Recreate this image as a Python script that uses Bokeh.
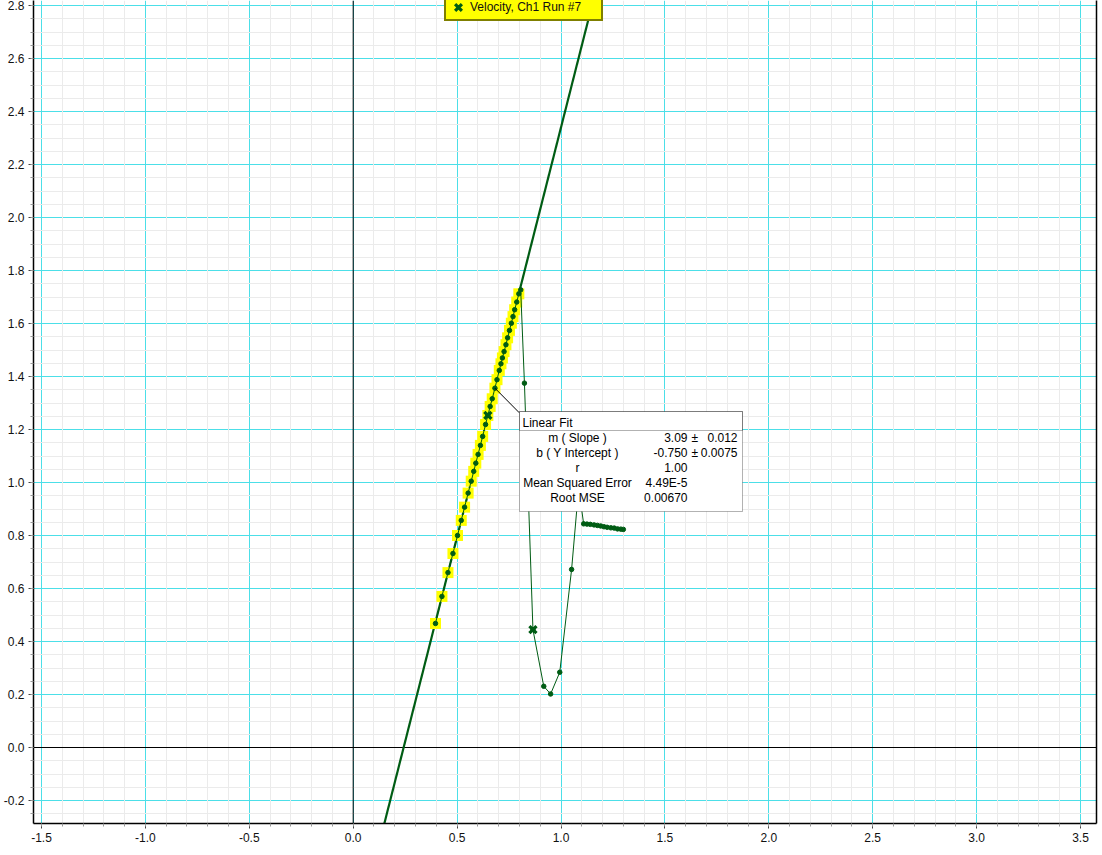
from bokeh.plotting import figure
from bokeh.models import (Range1d, SingleIntervalTicker, PrintfTickFormatter, Span, Slope,
                          BoxAnnotation, Label, Legend, LegendItem, LinearAxis, FixedTicker,
                          ColumnDataSource, Grid)
from bokeh.embed import file_html
from bokeh.resources import INLINE

# ---------------- data ----------------
time_s = [0.396, 0.427, 0.456, 0.480, 0.502, 0.520, 0.536, 0.553, 0.568, 0.580,
          0.590, 0.601, 0.612, 0.623, 0.637, 0.648, 0.659, 0.669, 0.682, 0.692,
          0.703, 0.711, 0.718, 0.726, 0.735, 0.743, 0.752, 0.761, 0.769, 0.777,
          0.787, 0.797, 0.806, 0.824, 0.865, 0.917, 0.950, 0.994, 1.051, 1.085,
          1.109, 1.125, 1.141, 1.159, 1.175, 1.191, 1.207, 1.222, 1.240, 1.256,
          1.272, 1.288, 1.300]
velocity = [0.468, 0.570, 0.660, 0.732, 0.800, 0.857, 0.907, 0.960, 1.005, 1.042,
            1.073, 1.106, 1.140, 1.174, 1.219, 1.253, 1.287, 1.316, 1.356, 1.388,
            1.423, 1.448, 1.470, 1.494, 1.520, 1.546, 1.574, 1.601, 1.626, 1.652,
            1.681, 1.712, 1.727, 1.375, 0.445, 0.231, 0.202, 0.284, 0.672, 0.980,
            0.844, 0.843, 0.842, 0.840, 0.838, 0.836, 0.833, 0.831, 0.829, 0.828,
            0.825, 0.824, 0.823]
selected_first, selected_last = 0, 31          # highlighted (fitted) points
marker_index = [15, 34]                        # point protectors (X marks)
fit_slope = 3.09
fit_intercept = -0.750
fit_anchor_index = 18                          # data point the fit box points to
fit_box_corner = (0.7995, 1.263)               # box top-left corner (data units)

series_label = "Velocity, Ch1 Run #7"
fit_title = "Linear Fit"
fit_names = ["m ( Slope )", "b ( Y Intercept )", "r", "Mean Squared Error", "Root MSE"]
fit_values = ["3.09", "-0.750", "1.00", "4.49E-5", "0.00670"]
fit_uncert = ["0.012", "0.0075", "", "", ""]
x_title = "Time( s )"

# ---------------- styling ----------------
FONT = "Liberation Sans"
GREEN = "#005C14"
CYAN = "#4CDFE8"
MINOR = "#EBEBEB"

x0 = -(352.0 - 32) / 208.0
y1 = 747.0 / 265.0
p = figure(width=1102, height=855,
           x_range=Range1d(x0, x0 + 1064 / 208.0), y_range=Range1d(y1 - 823 / 265.0, y1),
           output_backend="svg", toolbar_location=None,
           min_border_left=32, min_border_right=6, min_border_top=0, min_border_bottom=32,
           background_fill_color="white", border_fill_color="white")
p.outline_line_color = None

p.xaxis.ticker = SingleIntervalTicker(interval=0.5, num_minor_ticks=5)
p.yaxis.ticker = SingleIntervalTicker(interval=0.2, num_minor_ticks=4)
p.xgrid.ticker = SingleIntervalTicker(interval=0.5)
p.ygrid.ticker = SingleIntervalTicker(interval=0.2)
for ax in (p.xaxis, p.yaxis):
    ax.formatter = PrintfTickFormatter(format="%.1f")
    ax.major_label_text_font = FONT
    ax.major_label_text_font_size = "12px"
    ax.major_label_text_color = "#111111"
    ax.major_label_standoff = 4
    ax.axis_line_color = "black"
    ax.axis_line_width = 1.5
    ax.major_tick_line_color = "#444444"
    ax.minor_tick_line_color = "#999999"
    ax.major_tick_out = 5
    ax.major_tick_in = 0
    ax.minor_tick_out = 3
    ax.minor_tick_in = 0

# minor grid (only between major lines), then major cyan grid on top
minor_x = [round(k * 0.1, 2) for k in range(-16, 37) if k % 5 != 0]
minor_y = [round(k * 0.05, 3) for k in range(-6, 58) if k % 4 != 0]
for g in (p.xgrid, p.ygrid):
    g.grid_line_color = CYAN
    g.grid_line_width = 1
    g.minor_grid_line_color = None
p.add_layout(Grid(dimension=0, ticker=FixedTicker(ticks=minor_x), grid_line_color=MINOR,
                  grid_line_width=1, level="underlay"))
p.add_layout(Grid(dimension=1, ticker=FixedTicker(ticks=minor_y), grid_line_color=MINOR,
                  grid_line_width=1, level="underlay"))

right_axis = LinearAxis(ticker=FixedTicker(ticks=[]), axis_line_color="black",
                        axis_line_width=1.5, major_tick_line_color=None,
                        minor_tick_line_color=None)
p.add_layout(right_axis, "right")

# zero lines
p.add_layout(Span(location=0, dimension="height", line_color="black", line_width=1, level="underlay"))
p.add_layout(Span(location=0, dimension="width", line_color="black", line_width=1, level="underlay"))

# linear fit line
p.add_layout(Slope(gradient=fit_slope, y_intercept=fit_intercept, line_color=GREEN,
                   line_width=2.2, level="underlay"))

src = ColumnDataSource(dict(t=time_s, v=velocity))
sel = ColumnDataSource(dict(t=time_s[selected_first:selected_last + 1],
                            v=velocity[selected_first:selected_last + 1]))
mk = ColumnDataSource(dict(t=[time_s[i] for i in marker_index],
                           v=[velocity[i] for i in marker_index]))

p.scatter("t", "v", source=sel, marker="square", size=11, fill_color="#FFFF00", line_color=None)
p.line("t", "v", source=src, line_color=GREEN, line_width=1)
p.scatter("t", "v", source=src, marker="circle", size=4.5, fill_color=GREEN, line_color=GREEN)
xr = p.scatter("t", "v", source=mk, marker="x", size=10, line_color=GREEN, line_width=3.2)

# connector from data point to fit box
p.segment(x0=[time_s[fit_anchor_index]], y0=[velocity[fit_anchor_index]],
          x1=[fit_box_corner[0]], y1=[fit_box_corner[1]], line_color="black", line_width=1)

# fit box (screen units relative to plot frame)
p.add_layout(BoxAnnotation(left=486, right=709, top=412, bottom=312,
                           left_units="screen", right_units="screen",
                           top_units="screen", bottom_units="screen",
                           fill_color="white", fill_alpha=1, line_color="black", line_width=1))
p.add_layout(BoxAnnotation(left=486, right=709, top=412, bottom=393,
                           left_units="screen", right_units="screen",
                           top_units="screen", bottom_units="screen",
                           fill_alpha=0, line_color="black", line_width=1))

def lab(txt, x, y, align):
    p.add_layout(Label(x=x, y=y, x_units="screen", y_units="screen", text=txt,
                       text_font=FONT, text_font_size="12px", text_color="black",
                       text_align=align, text_baseline="middle"))

lab(fit_title, 489, 400.3, "left")
row_y = [385.7, 370.7, 355.7, 340.7, 325.7]
for name, val, unc, y in zip(fit_names, fit_values, fit_uncert, row_y):
    lab(name, 544, y, "center")
    lab(val, 654, y, "right")
    if unc:
        lab("\u00b1", 658, y, "left")
        lab(unc, 704, y, "right")

# x axis title (partly below the window edge, as in the reference)
p.add_layout(Label(x=532, y=-22, x_units="screen", y_units="screen", text=x_title,
                   text_font=FONT, text_font_size="12px", text_color="black",
                   text_align="center", text_baseline="top"))

legend = Legend(items=[LegendItem(label=series_label, renderers=[xr])], location=(411, 802),
                background_fill_color="#FFFF00", background_fill_alpha=1,
                border_line_color="black", border_line_width=2,
                label_text_font=FONT, label_text_font_size="12px", label_text_color="#111111",
                glyph_width=24, glyph_height=24, label_height=24, label_width=131,
                label_standoff=-4, padding=0, margin=0, spacing=0)
p.add_layout(legend)

open("out.html", "w").write(file_html(p, INLINE))
